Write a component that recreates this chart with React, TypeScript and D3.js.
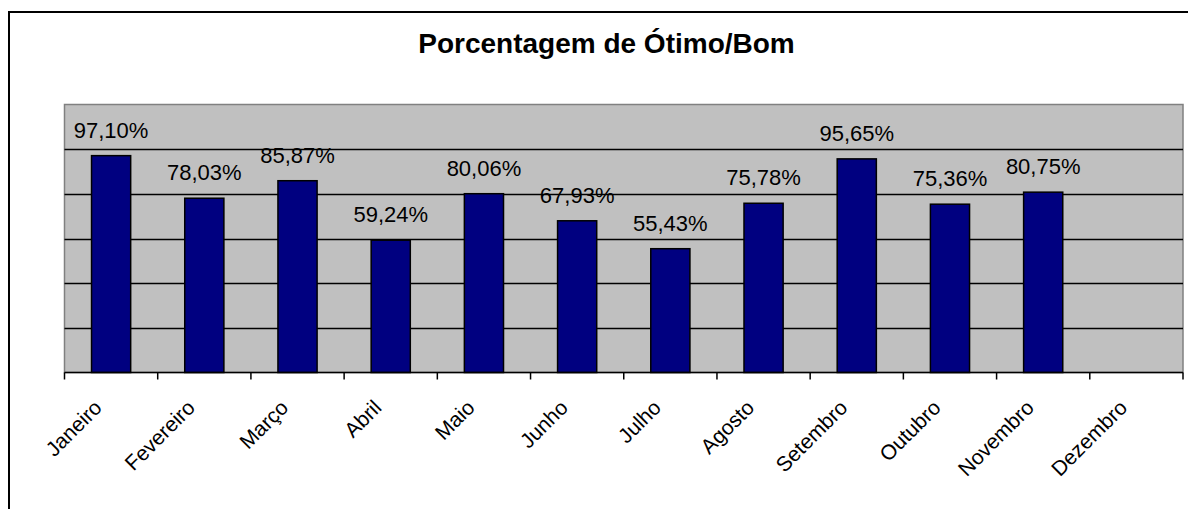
import React from "react";
import * as d3 from "d3";

const months = ["Janeiro","Fevereiro","Março","Abril","Maio","Junho","Julho","Agosto","Setembro","Outubro","Novembro","Dezembro"];
const values: (number | null)[] = [97.10, 78.03, 85.87, 59.24, 80.06, 67.93, 55.43, 75.78, 95.65, 75.36, 80.75, null];
const yTicks = [0, 20, 40, 60, 80, 100, 120];
const title = "Porcentagem de Ótimo/Bom";

const W = 1188, H = 509;
const plot = { left: 64.5, right: 1183, top: 104.5, bottom: 372.5 };
const font = "'Liberation Sans', Arial, sans-serif";

export default function App() {
  const x = d3.scaleBand<string>().domain(months).range([plot.left, plot.right]).paddingInner(0).paddingOuter(0);
  const y = d3.scaleLinear().domain([0, 120]).range([plot.bottom, plot.top]);
  const step = x.step();
  const barW = step * 0.42;
  const fmt = (v: number) => v.toFixed(2).replace(".", ",") + "%";
  const boundaries = d3.range(months.length + 1).map(i => plot.left + i * step);

  return (
    <svg width={W} height={H} style={{ position: "fixed", left: 0, top: 0, background: "#fff" }} fontFamily={font}>
      <rect x={0} y={0} width={W} height={H} fill="#fff" />
      <rect x={9} y={12} width={W + 40} height={H + 40} fill="none" stroke="#000" strokeWidth={2} />
      <text x={606.5} y={53} textAnchor="middle" fontSize={28} fontWeight="bold" fill="#000">{title}</text>
      <rect x={plot.left} y={plot.top} width={plot.right - plot.left} height={plot.bottom - plot.top} fill="#C0C0C0" stroke="#808080" strokeWidth={1.5} />
      {yTicks.filter(t => t > 0 && t < 120).map(t => (
        <line key={t} x1={plot.left} x2={plot.right} y1={Math.round(y(t)) + 0.5} y2={Math.round(y(t)) + 0.5} stroke="#000" strokeWidth={1.5} />
      ))}
      {months.map((m, i) => {
        const v = values[i];
        if (v == null) return null;
        const cx = x(m)! + step / 2;
        return (
          <g key={m}>
            <rect x={cx - barW / 2} y={y(v)} width={barW} height={plot.bottom - y(v)} fill="#000080" stroke="#000" strokeWidth={1.5} />
            <text x={cx} y={y(v) - 18} textAnchor="middle" fontSize={22} fill="#000">{fmt(v)}</text>
          </g>
        );
      })}
      <line x1={plot.left} x2={plot.right} y1={plot.bottom} y2={plot.bottom} stroke="#000" strokeWidth={1.5} />
      {boundaries.map((bx, i) => (
        <line key={i} x1={bx} x2={bx} y1={plot.bottom} y2={plot.bottom + 7} stroke="#000" strokeWidth={1.5} />
      ))}
      {months.map(m => {
        const ax = x(m)! + step / 2 - 8;
        const ay = 409;
        return (
          <text key={m} x={ax} y={ay} textAnchor="end" fontSize={21} fill="#000" transform={`rotate(-45, ${ax}, ${ay})`}>{m}</text>
        );
      })}
    </svg>
  );
}
